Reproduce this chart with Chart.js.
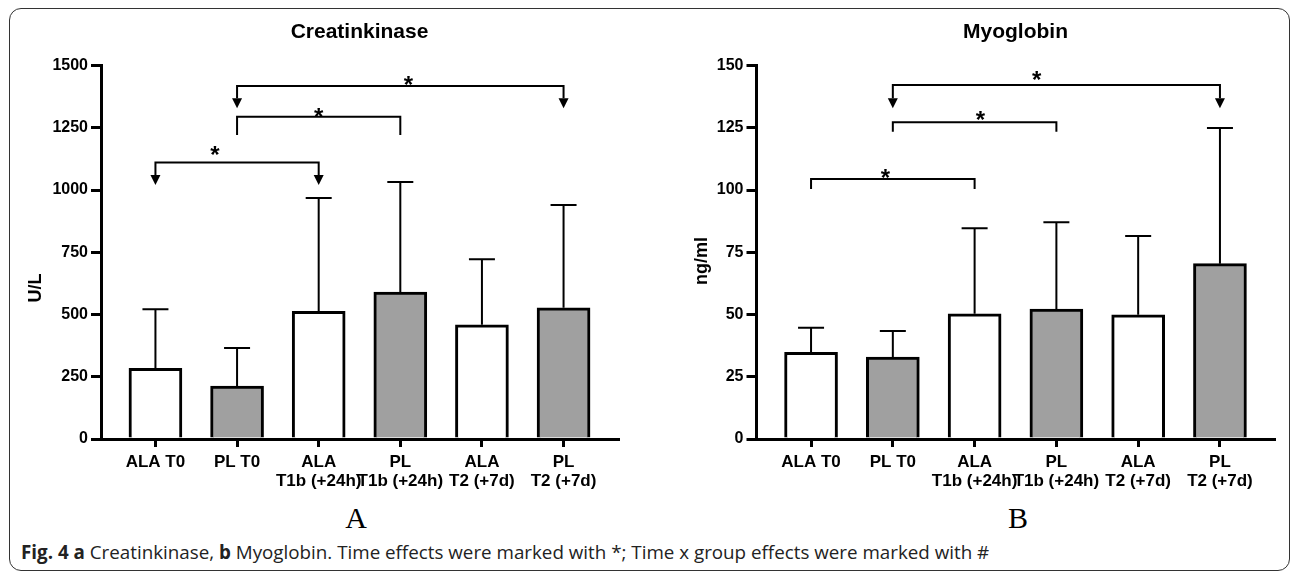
<!DOCTYPE html>
<html>
<head>
<meta charset="utf-8">
<script src="https://cdn.jsdelivr.net/npm/chart.js@4.4.1/dist/chart.umd.min.js"></script>
<style>
  html, body { margin: 0; padding: 0; background: #fff; }
  #page { position: relative; width: 1292px; height: 574px; overflow: hidden; }
  #frame { position: absolute; left: 9px; top: 8px; width: 1281px; height: 563px; box-sizing: border-box;
           border: 1.5px solid #333; border-radius: 12px; }
  .panel { position: absolute; top: 0; width: 646px; height: 500px; }
  .letter { position: absolute; top: 503px; width: 60px; text-align: center; line-height: 30px;
            font-family: 'Liberation Serif', 'Times New Roman', serif; font-size: 30px; color: #000; }
  #caption { position: absolute; left: 21px; top: 541px; line-height: 22px; white-space: nowrap;
             font-family: 'Open Sans', sans-serif; font-size: 18.8px; color: #222; }
</style>
</head>
<body>
<div id="page">
  <div id="frame"></div>
  <div class="panel" style="left:0"><canvas id="ckChart"></canvas></div>
  <div class="panel" style="left:646px"><canvas id="mbChart"></canvas></div>
  <div class="letter" style="left:326px">A</div>
  <div class="letter" style="left:988px">B</div>
  <div id="caption"><b>Fig. 4 a</b> Creatinkinase, <b>b</b> Myoglobin. Time effects were marked with *; Time x group effects were marked with #</div>
</div>
<script>
// ============ DATA ============
const categories = ['ALA T0', 'PL T0', ['ALA', 'T1b (+24h)'], ['PL', 'T1b (+24h)'], ['ALA', 'T2 (+7d)'], ['PL', 'T2 (+7d)']];

// Creatinkinase (U/L): mean and SD
const ckMean = [284, 213, 513, 590, 459, 527];
const ckSD = [237, 152, 455, 442, 263, 413];
const ckTicks = [0, 250, 500, 750, 1000, 1250, 1500];

// Myoglobin (ng/ml): mean and SD
const mbMean = [34.8, 32.9, 50.3, 52.2, 49.9, 70.4];
const mbSD = [9.9, 10.5, 34.3, 34.8, 31.6, 54.5];
const mbTicks = [0, 25, 50, 75, 100, 125, 150];

// significance brackets: from/to category, line level, end level, arrow heads, star position
const ckBrackets = [
  { from: 0, to: 2, line: 1110, end: 1020, arrow: true, starX: 0.73, starY: 1165 },
  { from: 1, to: 3, line: 1294, end: 1221, arrow: false, starX: 2.0, starY: 1319 },
  { from: 1, to: 5, line: 1418, end: 1328, arrow: true, starX: 3.1, starY: 1444 }
];
const mbBrackets = [
  { from: 0, to: 2, line: 104.4, end: 100.4, arrow: false, starX: 0.91, starY: 107.3 },
  { from: 1, to: 3, line: 127.2, end: 123.4, arrow: false, starX: 2.07, starY: 130.4 },
  { from: 1, to: 5, line: 142.2, end: 132.8, arrow: true, starX: 2.76, starY: 146.6 }
];

const barFill = ['#ffffff', '#a0a0a0', '#ffffff', '#a0a0a0', '#ffffff', '#a0a0a0'];
const FONT = "'Liberation Sans', Arial, sans-serif";

// ============ PLUGIN: error bars, brackets, axis title ============
const marksPlugin = {
  id: 'marks',
  afterDatasetsDraw(chart, args, opts) {
    const { ctx, scales: { x, y }, chartArea } = chart;
    ctx.save();
    ctx.strokeStyle = '#000';
    ctx.fillStyle = '#000';
    ctx.lineWidth = 2;

    opts.mean.forEach((m, i) => {
      const px = x.getPixelForValue(i);
      const y0 = y.getPixelForValue(m);
      const y1 = y.getPixelForValue(m + opts.sd[i]);
      ctx.beginPath();
      ctx.moveTo(px, y0);
      ctx.lineTo(px, y1);
      ctx.moveTo(px - 13, y1);
      ctx.lineTo(px + 13, y1);
      ctx.stroke();
    });

    opts.brackets.forEach(b => {
      const xa = x.getPixelForValue(b.from);
      const xb = x.getPixelForValue(b.to);
      const yl = y.getPixelForValue(b.line);
      const ye = y.getPixelForValue(b.end);
      const head = b.arrow ? 10 : 0;
      ctx.beginPath();
      ctx.moveTo(xa, ye - head);
      ctx.lineTo(xa, yl);
      ctx.lineTo(xb, yl);
      ctx.lineTo(xb, ye - head);
      ctx.stroke();
      if (b.arrow) {
        [xa, xb].forEach(px => {
          ctx.beginPath();
          ctx.moveTo(px - 5, ye - head);
          ctx.lineTo(px + 5, ye - head);
          ctx.lineTo(px, ye);
          ctx.closePath();
          ctx.fill();
        });
      }
      ctx.font = 'bold 24px ' + FONT;
      ctx.textAlign = 'center';
      ctx.textBaseline = 'alphabetic';
      ctx.fillText('*', x.getPixelForValue(b.starX), y.getPixelForValue(b.starY) + 14);
    });

    // rotated y-axis title
    ctx.font = 'bold 18px ' + FONT;
    ctx.textAlign = 'center';
    ctx.textBaseline = 'middle';
    ctx.translate(chartArea.left + opts.titleDx, y.getPixelForValue(opts.titleAt));
    ctx.rotate(-Math.PI / 2);
    ctx.fillText(opts.yTitle, 0, 0);
    ctx.restore();
  }
};

function makeChart(id, title, mean, sd, ticks, brackets, yTitle, titleDx, titleAt, yWidth, padRight) {
  const ctx = document.getElementById(id).getContext('2d');
  return new Chart(ctx, {
    type: 'bar',
    data: {
      datasets: [{
        data: mean.map((v, i) => ({ x: i, y: v })),
        backgroundColor: barFill,
        borderColor: '#000',
        borderWidth: 3,
        barThickness: 53
      }]
    },
    options: {
      responsive: true,
      maintainAspectRatio: false,
      animation: false,
      layout: { padding: { top: 20, right: padRight, left: 0, bottom: 0 } },
      plugins: {
        legend: { display: false },
        tooltip: { enabled: false },
        title: {
          display: true,
          text: title,
          fullSize: false,
          color: '#000',
          font: { family: FONT, size: 21, weight: 'bold' },
          padding: { top: 0, bottom: 20.3 }
        },
        marks: { mean, sd, brackets, yTitle, titleDx, titleAt }
      },
      scales: {
        x: {
          type: 'linear',
          offset: false,
          min: -0.667,
          max: 5.667,
          z: 1,
          afterBuildTicks: s => { s.ticks = categories.map((c, i) => ({ value: i })); },
          afterFit: s => { s.height = 61; },
          grid: { display: true, offset: false, drawOnChartArea: false, drawTicks: true, tickLength: 8, lineWidth: 3, color: '#000' },
          border: { display: true, color: '#000', width: 3 },
          ticks: {
            callback: v => categories[v],
            color: '#000',
            font: { family: FONT, size: 17, weight: 'bold', lineHeight: 1.12 },
            padding: 6,
            maxRotation: 0,
            autoSkip: false
          }
        },
        y: {
          min: 0,
          max: ticks[ticks.length - 1],
          afterBuildTicks: s => { s.ticks = ticks.map(v => ({ value: v })); },
          afterFit: s => { s.width = yWidth; },
          grid: { display: true, drawOnChartArea: false, drawTicks: true, tickLength: 10, lineWidth: 3, color: '#000' },
          border: { display: true, color: '#000', width: 3 },
          ticks: {
            callback: v => String(v),
            color: '#000',
            font: { family: FONT, size: 16, weight: 'bold' },
            padding: 3
          }
        }
      }
    },
    plugins: [marksPlugin]
  });
}

makeChart('ckChart', 'Creatinkinase', ckMean, ckSD, ckTicks, ckBrackets, 'U/L', -65, 606, 101, 28);
makeChart('mbChart', 'Myoglobin', mbMean, mbSD, mbTicks, mbBrackets, 'ng/ml', -54.5, 71.5, 110.5, 17.5);
</script>
</body>
</html>
